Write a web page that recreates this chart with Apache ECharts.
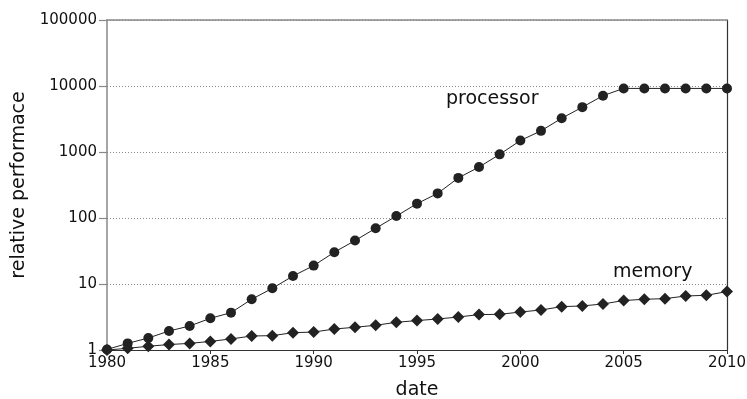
<!DOCTYPE html>
<html>
<head>
<meta charset="utf-8">
<script src="https://cdn.jsdelivr.net/npm/echarts@6/dist/echarts.min.js"></script>
<style>html,body{margin:0;padding:0;background:#fff}#c{width:747px;height:399px}</style>
</head>
<body>
<div id="c"></div>
<script>
const years = [1980,1981,1982,1983,1984,1985,1986,1987,1988,1989,1990,1991,1992,1993,1994,1995,1996,1997,1998,1999,2000,2001,2002,2003,2004,2005,2006,2007,2008,2009,2010];
const processor = [1.02,1.26,1.52,1.94,2.31,3.02,3.68,5.87,8.6,13.2,19.0,30.3,45.5,69.8,107,165,236,405,591,921,1490,2092,3243,4780,7135,9190,9190,9190,9190,9190,9190];
const memory = [1.0,1.06,1.14,1.21,1.26,1.35,1.47,1.63,1.65,1.83,1.87,2.08,2.21,2.37,2.63,2.79,2.95,3.16,3.44,3.47,3.76,4.04,4.54,4.65,4.98,5.62,5.87,6.0,6.58,6.74,7.67];
const xTicks = [1980,1985,1990,1995,2000,2005,2010];
const yTicks = [1,10,100,1000,10000,100000];

const font = 'DejaVu Sans';
const chart = echarts.init(document.getElementById('c'), null, {renderer:'canvas'});
chart.setOption({
  animation:false,
  backgroundColor:'#fff',
  grid:{left:107,right:20,top:20,bottom:49,containLabel:false,outerBoundsMode:'none'},
  xAxis:[{
    type:'value',min:xTicks[0],max:xTicks[xTicks.length-1],interval:5,
    name:'date',nameLocation:'middle',nameGap:31,
    nameTextStyle:{fontFamily:font,fontSize:19,color:'#111'},
    axisLine:{lineStyle:{color:'#333',width:1.2}},
    axisTick:{show:true,length:4,lineStyle:{color:'#333'}},
    axisLabel:{fontFamily:font,fontSize:15,color:'#111',margin:6,formatter:v=>String(v)},
    splitLine:{show:false}
  },{
    type:'value',position:'top',min:xTicks[0],max:xTicks[xTicks.length-1],interval:5,
    axisLine:{show:true,lineStyle:{color:'#888',width:1.5}},
    axisTick:{show:false},axisLabel:{show:false},splitLine:{show:false}
  }],
  yAxis:[{
    type:'log',logBase:10,min:yTicks[0],max:yTicks[yTicks.length-1],
    name:'relative performace',nameLocation:'middle',nameGap:76,
    nameTextStyle:{fontFamily:font,fontSize:19,color:'#111'},
    axisLine:{show:true,lineStyle:{color:'#888',width:1.5}},
    axisTick:{show:true,length:8,lineStyle:{color:'#888',width:1.2}},
    axisLabel:{fontFamily:font,fontSize:15,color:'#111',margin:10,formatter:v=>String(Math.round(v))},
    splitLine:{show:true,lineStyle:{color:'#888',type:[1,2],width:1}}
  },{
    type:'log',logBase:10,position:'right',min:yTicks[0],max:yTicks[yTicks.length-1],
    axisLine:{show:true,lineStyle:{color:'#333',width:1.2}},
    axisTick:{show:false},axisLabel:{show:false},splitLine:{show:false}
  }],
  series:[{
    type:'line',name:'processor',
    data:years.map((y,i)=>[y,processor[i]]),
    symbol:'circle',symbolSize:10,
    lineStyle:{color:'#222',width:1},
    itemStyle:{color:'#222'},
    clip:false
  },{
    type:'line',name:'memory',
    data:years.map((y,i)=>[y,memory[i]]),
    symbol:'diamond',symbolSize:12,
    lineStyle:{color:'#222',width:1},
    itemStyle:{color:'#222'},
    clip:false
  }],
  graphic:[
    {type:'text',left:446,top:90,style:{text:'processor',font:'19px "DejaVu Sans"',fill:'#111'}},
    {type:'text',left:613,top:263,style:{text:'memory',font:'19px "DejaVu Sans"',fill:'#111'}}
  ]
});
</script>
</body>
</html>
